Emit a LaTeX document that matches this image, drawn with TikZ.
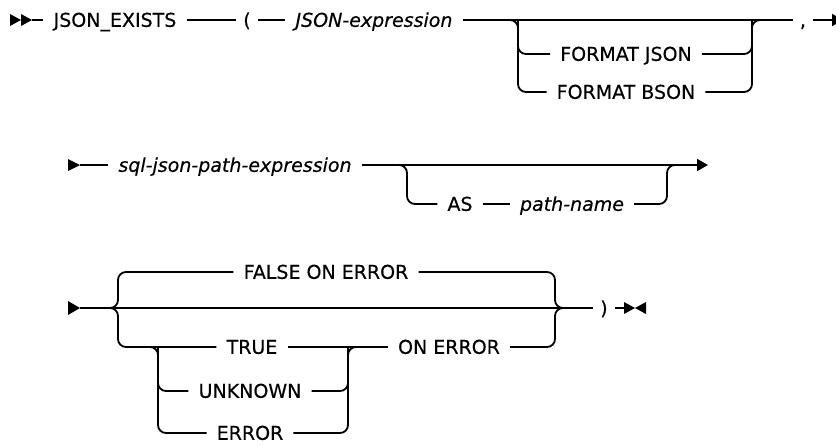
\documentclass[tikz,border=0pt]{standalone}
\usepackage{fontspec}
\setmainfont{DejaVu Sans}[FakeBold=0.35]
\usetikzlibrary{arrows.meta,positioning,calc}
\tikzset{
  kw/.style={font=\fontsize{19}{21}\selectfont,inner xsep=10pt,inner ysep=0pt,text height=13.6pt,text depth=0pt},
  var/.style={kw,font=\fontsize{19}{21}\selectfont\itshape},
  punct/.style={kw,inner xsep=7pt},
  rail/.style={line width=1.8pt,rounded corners=8pt},
  arr/.style={rail,-{Triangle[length=11pt,width=12pt]}},
}
\begin{document}
\begin{tikzpicture}[x=1pt,y=-1pt]
  \useasboundingbox (0,0) rectangle (836,445);
  % first line: JSON_EXISTS ( JSON-expression [FORMAT ...] ,
  \coordinate (s1) at (32,20);
  \coordinate (e1) at (843,20);
  \coordinate (b1) at (518,20);
  \coordinate (b2) at (752,20);
  \node[kw] (fn) at (115,20) {JSON\_EXISTS};
  \node[punct] (lp) at (247,20) {(};
  \node[var] (je) at (374,20) {JSON-expression};
  \node[kw] (fj) at (626,54) {FORMAT JSON};
  \node[kw] (fb) at (626,92) {FORMAT BSON};
  \node[punct] (cm) at (803,20) {,};
  \fill (10,14) -- (21,20) -- (10,26) -- cycle (21,14) -- (32,20) -- (21,26) -- cycle;
  \draw[rail] (s1) -- (fn);
  \draw[rail] (fn) -- (lp);
  \draw[rail] (lp) -- (je);
  \draw[rail] (je) -- (cm);
  \draw[arr] (cm) -- (e1);
  \draw[rail] ([xshift=-13pt]b1) -- (b1) |- (fb.west);
  \draw[rail] (b1) |- (fj.west);
  \draw[rail] (fj.east) -| (b2);
  \draw[rail] (fb.east) -| (b2) -- ([xshift=13pt]b2);
  % second line: path expression [AS path-name]
  \coordinate (s2) at (80,165);
  \coordinate (e2) at (708,165);
  \coordinate (b3) at (407,165);
  \coordinate (b4) at (667,165);
  \node[var] (sq) at (235,165) {sql-json-path-expression};
  \node[kw] (as) at (460,204) {AS};
  \node[var] (pn) at (572,204) {path-name};
  \fill (68,159) -- (80,165) -- (68,171) -- cycle;
  \draw[rail] (s2) -- (sq);
  \draw[arr] (sq) -- (e2);
  \draw[rail] ([xshift=-13pt]b3) -- (b3) |- (as.west);
  \draw[rail] (as) -- (pn);
  \draw[rail] (pn.east) -| (b4) -- ([xshift=13pt]b4);
  % third line: error behaviour )
  \coordinate (s3) at (80,308);
  \coordinate (e3) at (624,308);
  \coordinate (b5) at (118,308);
  \coordinate (b6) at (555,308);
  \coordinate (b7) at (158,347);
  \coordinate (b8) at (348,347);
  \node[kw] (fe) at (326,272) {FALSE ON ERROR};
  \node[punct] (rp) at (604,308) {)};
  \node[kw] (tr) at (252,347) {TRUE};
  \node[kw] (oe) at (449,347) {ON ERROR};
  \node[kw] (un) at (250,391) {UNKNOWN};
  \node[kw] (er) at (250,433) {ERROR};
  \fill (68,301) -- (80,308) -- (68,315) -- cycle;
  \fill (624,302) -- (635,308) -- (624,314) -- cycle (646,302) -- (635,308) -- (646,314) -- cycle;
  \draw[rail] (s3) -- (rp);
  \draw[rail] (rp) -- (e3);
  \draw[rail] ([xshift=-8pt]b5) -- (b5) |- (fe.west);
  \draw[rail] ([xshift=-8pt]b5) -- (b5) |- (tr.west);
  \draw[rail] (fe.east) -| (b6) -- ([xshift=8pt]b6);
  \draw[rail] (oe.east) -| (b6) -- ([xshift=8pt]b6);
  \draw[rail] (tr) -- (oe);
  \draw[rail] ([xshift=-8pt]b7) -- (b7) |- (er.west);
  \draw[rail] (b7) |- (un.west);
  \draw[rail] (un.east) -| (b8);
  \draw[rail] (er.east) -| (b8) -- ([xshift=8pt]b8);
\end{tikzpicture}
\end{document}
